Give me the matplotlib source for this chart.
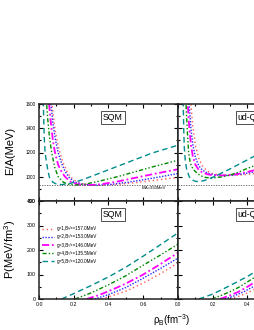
import numpy as np
import matplotlib
matplotlib.use("Agg")
import matplotlib.pyplot as plt

plt.rcParams['font.family'] = ['Liberation Sans', 'DejaVu Sans']
plt.rcParams['mathtext.fontset'] = 'custom'
plt.rcParams['mathtext.rm'] = 'Liberation Sans'
plt.rcParams['mathtext.it'] = 'Liberation Sans:italic'

labels = ["g=1,B\u00b9\u2044\u2074=157.0MeV", "g=2,B\u00b9\u2044\u2074=153.0MeV", "g=3,B\u00b9\u2044\u2074=146.0MeV",
          "g=4,B\u00b9\u2044\u2074=135.5MeV", "g=5,B\u00b9\u2044\u2074=120.0MeV"]
colors = ['#FF5A5A', '#2B2BFF', '#FF00FF', '#008A00', '#008C8C']
styles = [(0, (1, 2)), (0, (1, 1.1)), (0, (4, 1.5, 1, 1.5)), (0, (3, 1.5, 1, 1.5, 1, 1.5)), (0, (4, 2.5))]
widths = [1.0, 1.0, 1.3, 1.0, 1.0]

# SQM, E/A (MeV) vs rho_B
sqm_e_rho = [
    [0.068, 0.075, 0.09, 0.105, 0.12, 0.14, 0.16, 0.18, 0.21, 0.26, 0.3, 0.36, 0.45, 0.55, 0.65, 0.8],
    [0.062, 0.069, 0.08, 0.095, 0.11, 0.13, 0.15, 0.17, 0.2, 0.25, 0.32, 0.4, 0.5, 0.6, 0.7, 0.8],
    [0.052, 0.058, 0.07, 0.08, 0.092, 0.11, 0.13, 0.15, 0.18, 0.22, 0.275, 0.35, 0.45, 0.55, 0.65, 0.8],
    [0.04, 0.044, 0.05, 0.06, 0.073, 0.09, 0.11, 0.14, 0.17, 0.21, 0.27, 0.35, 0.45, 0.55, 0.65, 0.8],
    [0.022, 0.025, 0.03, 0.035, 0.04, 0.05, 0.06, 0.08, 0.10, 0.13, 0.18, 0.25, 0.35, 0.45, 0.55, 0.65, 0.8],
]
sqm_e = [
    [1720, 1600, 1410, 1290, 1200, 1110, 1045, 1000, 965, 940, 933, 930, 937, 950, 968, 994],
    [1720, 1600, 1440, 1300, 1200, 1110, 1045, 1000, 960, 937, 930, 935, 952, 975, 1000, 1027],
    [1720, 1600, 1420, 1300, 1200, 1100, 1040, 1000, 960, 938, 930, 937, 960, 990, 1020, 1062],
    [1700, 1600, 1480, 1330, 1200, 1080, 1000, 955, 937, 931, 940, 965, 1000, 1040, 1080, 1136],
    [1700, 1600, 1330, 1200, 1150, 1060, 995, 955, 940, 935, 945, 975, 1030, 1085, 1140, 1195, 1260],
]
# SQM, pressure (MeV/fm^3)
sqm_p_rho = [
    [0.36, 0.45, 0.5, 0.6, 0.7, 0.8],
    [0.32, 0.4, 0.5, 0.6, 0.7, 0.8],
    [0.275, 0.35, 0.45, 0.5, 0.6, 0.7, 0.8],
    [0.207, 0.3, 0.4, 0.5, 0.6, 0.7, 0.8],
    [0.13, 0.2, 0.3, 0.4, 0.5, 0.6, 0.7, 0.8],
]
sqm_p = [
    [0, 20, 32, 65, 104, 147],
    [0, 18, 47, 85, 125, 167],
    [0, 17, 47, 63, 100, 143, 189],
    [0, 25, 58, 95, 138, 180, 224],
    [0, 22, 55, 90, 130, 175, 222, 270],
]
# ud-QM, E/A
ud_e_rho = [
    [0.07, 0.074, 0.085, 0.1, 0.12, 0.14, 0.17, 0.2, 0.24, 0.3, 0.35, 0.4, 0.45, 0.5],
    [0.06, 0.064, 0.075, 0.085, 0.1, 0.12, 0.14, 0.17, 0.2, 0.24, 0.27, 0.32, 0.38, 0.45, 0.5],
    [0.052, 0.056, 0.065, 0.075, 0.085, 0.1, 0.12, 0.14, 0.17, 0.2, 0.24, 0.3, 0.35, 0.4, 0.5],
    [0.042, 0.046, 0.052, 0.061, 0.07, 0.08, 0.095, 0.11, 0.13, 0.16, 0.19, 0.25, 0.3, 0.35, 0.4, 0.5],
    [0.028, 0.03, 0.033, 0.036, 0.042, 0.05, 0.065, 0.08, 0.1, 0.12, 0.15, 0.2, 0.3, 0.4, 0.5],
]
ud_e = [
    [1700, 1600, 1420, 1260, 1150, 1090, 1045, 1025, 1014, 1010, 1013, 1020, 1028, 1037],
    [1700, 1600, 1390, 1270, 1160, 1090, 1055, 1030, 1018, 1011, 1010, 1014, 1025, 1042, 1055],
    [1700, 1600, 1400, 1260, 1170, 1100, 1055, 1035, 1020, 1013, 1010, 1015, 1025, 1040, 1075],
    [1700, 1600, 1420, 1200, 1120, 1080, 1050, 1030, 1008, 994, 990, 998, 1015, 1038, 1070, 1120],
    [1700, 1600, 1390, 1250, 1130, 1060, 1000, 975, 962, 960, 968, 995, 1065, 1140, 1215],
]
ud_p_rho = [
    [0.3, 0.35, 0.4, 0.45, 0.5],
    [0.27, 0.32, 0.38, 0.44, 0.5],
    [0.242, 0.3, 0.35, 0.4, 0.5],
    [0.194, 0.25, 0.3, 0.35, 0.4, 0.5],
    [0.12, 0.2, 0.3, 0.4, 0.5],
]
ud_p = [
    [0, 11, 25, 44, 62],
    [0, 12, 30, 53, 78],
    [0, 15, 30, 50, 95],
    [0, 15, 30, 48, 70, 115],
    [0, 20, 55, 92, 135],
]

W, H = 255.0, 330.0
fig = plt.figure(figsize=(W / 100, H / 100), dpi=100)
ax_tl = fig.add_axes([39 / W, 1 - 201 / H, 139 / W, 97 / H])
ax_tr = fig.add_axes([178 / W, 1 - 201 / H, 139 / W, 97 / H])
ax_bl = fig.add_axes([39 / W, 1 - 299 / H, 139 / W, 98 / H])
ax_br = fig.add_axes([178 / W, 1 - 299 / H, 139 / W, 98 / H])

for i in range(5):
    kw = dict(color=colors[i], ls=styles[i], lw=widths[i])
    ax_tl.plot(sqm_e_rho[i], sqm_e[i], **kw)
    ax_bl.plot(sqm_p_rho[i], sqm_p[i], label=labels[i], **kw)
    ax_tr.plot(ud_e_rho[i], ud_e[i], **kw)
    ax_br.plot(ud_p_rho[i], ud_p[i], **kw)

for ax in [ax_tl, ax_tr]:
    ax.axhline(930, color='#555555', ls=(0, (1.5, 1.5)), lw=0.6)
    ax.set_ylim(800, 1600)
    ax.set_yticks([800, 1000, 1200, 1400, 1600])
    ax.set_yticks(np.arange(800, 1601, 100), minor=True)
for ax in [ax_bl, ax_br]:
    ax.set_ylim(0, 400)
    ax.set_yticks([0, 100, 200, 300, 400])
    ax.set_yticks(np.arange(0, 401, 50), minor=True)

for ax in [ax_tl, ax_tr, ax_bl, ax_br]:
    ax.set_xlim(0, 0.8)
    ax.set_xticks([0, 0.2, 0.4, 0.6, 0.8])
    ax.set_xticks(np.arange(0, 0.81, 0.1), minor=True)
    ax.tick_params(which='both', direction='in', top=True, right=True, width=0.8, labelsize=3.8, pad=2.5)
    ax.tick_params(which='major', length=3)
    ax.tick_params(which='minor', length=1.6)
    for s in ax.spines.values():
        s.set_linewidth(1.1)
        s.set_color('#222222')

ax_tl.tick_params(labelbottom=False)
ax_tr.tick_params(labelbottom=False, labelleft=False)
ax_br.tick_params(labelleft=False, labelsize=3.3)
ax_bl.set_xticks([0, 0.2, 0.4, 0.6, 0.8], ['0.0', '0.2', '0.4', '0.6', ''])
ax_br.set_xticks([0, 0.2, 0.4, 0.6, 0.8], ['0.0', '0.2', '0.4', '0.6', '0.8'])
ax_tl.set_yticks([800, 1000, 1200, 1400, 1600], ['800', '1000', '1200', '1400', '1600'], fontsize=3.3)

box = dict(boxstyle='square,pad=0.25', fc='white', ec='#333333', lw=0.6)
ax_tl.text(0.53, 0.86, 'SQM', transform=ax_tl.transAxes, fontsize=6.3, ha='center', va='center', bbox=box)
ax_bl.text(0.53, 0.86, 'SQM', transform=ax_bl.transAxes, fontsize=6.3, ha='center', va='center', bbox=box)
ax_tr.text(0.43, 0.86, 'ud-QM', transform=ax_tr.transAxes, fontsize=6.3, ha='left', va='center', bbox=box)
ax_br.text(0.43, 0.86, 'ud-QM', transform=ax_br.transAxes, fontsize=6.3, ha='left', va='center', bbox=box)
ax_tl.text(0.59, 922, 'E/A=930MeV', fontsize=3.0, ha='left', va='top')

ax_bl.legend(loc='upper left', bbox_to_anchor=(0.01, 0.76), frameon=False, fontsize=3.3,
             handlelength=2.6, handletextpad=0.6, labelspacing=0.68, borderaxespad=0)

fig.text(10.5 / W, 1 - 151 / H, 'E/A(MeV)', rotation=90, ha='center', va='center', fontsize=8)
fig.text(10.5 / W, 1 - 249 / H, 'P(MeV/fm$^3$)', rotation=90, ha='center', va='center', fontsize=8)
fig.text(172 / W, 1 - 320 / H, r'$\mathrm{\rho}_\mathrm{B}$(fm$^{-3}$)', ha='center', va='center', fontsize=7)

fig.savefig('out.png', dpi=100)
